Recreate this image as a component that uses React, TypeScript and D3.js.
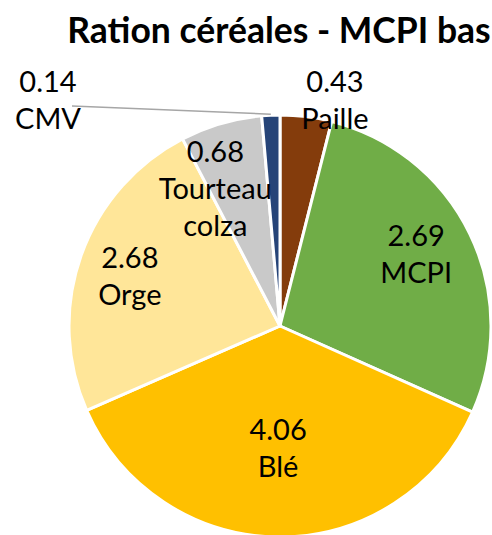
import * as d3 from 'd3'

const categories = ['Paille', 'MCPI', 'Blé', 'Orge', 'Tourteau colza', 'CMV']
// values printed on the labels
const labelValues = [0.43, 2.69, 4.06, 2.68, 0.68, 0.14]
// slice sizes as drawn in the picture (they don't follow the printed labels exactly)
const sliceShares = [0.421, 2.964, 3.925, 2.554, 0.668, 0.148]
const colors = ['#843C0C', '#70AD47', '#FFC000', '#FFE699', '#C9C9C9', '#264478']
const title = 'Ration céréales - MCPI bas'

// where Excel put each label: [radius factor, angle in degrees from 12 o'clock]
const labelPolar: Record<string, [number, number]> = {
  'Paille': [1.10, 13.7],
  'MCPI': [0.73, 62.1],
  'Blé': [0.58, 180.9],
  'Orge': [0.75, 288.4],
  'Tourteau colza': [0.72, 334.8],
}

export default function App() {
  const width = 492
  const height = 535
  const cx = 280
  const cy = 326
  const radius = 211
  const font = 'Lato, "Open Sans", sans-serif'
  const fontSize = 29
  const lineGap = 37

  const pie = d3.pie<number>().sort(null).value(d => d)
  const arcs = pie(sliceShares)
  const arc = d3.arc<d3.PieArcDatum<number>>().innerRadius(0).outerRadius(radius)

  const polar = (k: number, deg: number) => {
    const a = (deg * Math.PI) / 180
    return [Math.sin(a) * radius * k, -Math.cos(a) * radius * k]
  }

  const labelLines = (i: number) => {
    const name = categories[i]
    return [labelValues[i].toFixed(2), ...(name === 'Tourteau colza' ? ['Tourteau', 'colza'] : [name])]
  }

  // CMV sits outside with a leader line
  const cmvIdx = categories.indexOf('CMV')
  const cmvArc = arcs[cmvIdx]
  const cmvMid = (cmvArc.startAngle + cmvArc.endAngle) / 2
  const leaderEnd = [Math.sin(cmvMid) * radius, -Math.cos(cmvMid) * radius]

  return (
    <svg width={width} height={height} style={{position: 'absolute', left: 0, top: 0}}>
      <rect width={width} height={height} fill="#fff"/>
      <text x={279} y={43} textAnchor="middle" fontFamily={font} fontWeight="bold" fontSize={35.5} fill="#000">
        {title}
      </text>
      <g transform={`translate(${cx},${cy})`}>
        {arcs.map((a, i) => (
          <path key={categories[i]} d={arc(a) ?? ''} fill={colors[i]} stroke="#fff" strokeWidth={3} strokeLinejoin="round"/>
        ))}
        {arcs.map((a, i) => {
          const place = labelPolar[categories[i]]
          if (!place) return null
          const [x, y] = polar(place[0], place[1])
          const lines = labelLines(i)
          const top = y - ((lines.length - 1) * lineGap) / 2
          return (
            <text key={'l' + i} textAnchor="middle" fontFamily={font} fontSize={fontSize} fill="#000">
              {lines.map((t, j) => (
                <tspan key={j} x={x} y={top + j * lineGap} dy="0.35em">{t}</tspan>
              ))}
            </text>
          )
        })}
        <line x1={72 - cx} y1={106 - cy} x2={leaderEnd[0]} y2={leaderEnd[1] - 1} stroke="#A6A6A6" strokeWidth={1.5}/>
      </g>
      <text textAnchor="middle" fontFamily={font} fontSize={fontSize} fill="#000">
        <tspan x={48} y={82} dy="0.35em">{labelValues[cmvIdx].toFixed(2)}</tspan>
        <tspan x={48} y={82 + lineGap} dy="0.35em">{categories[cmvIdx]}</tspan>
      </text>
    </svg>
  )
}
